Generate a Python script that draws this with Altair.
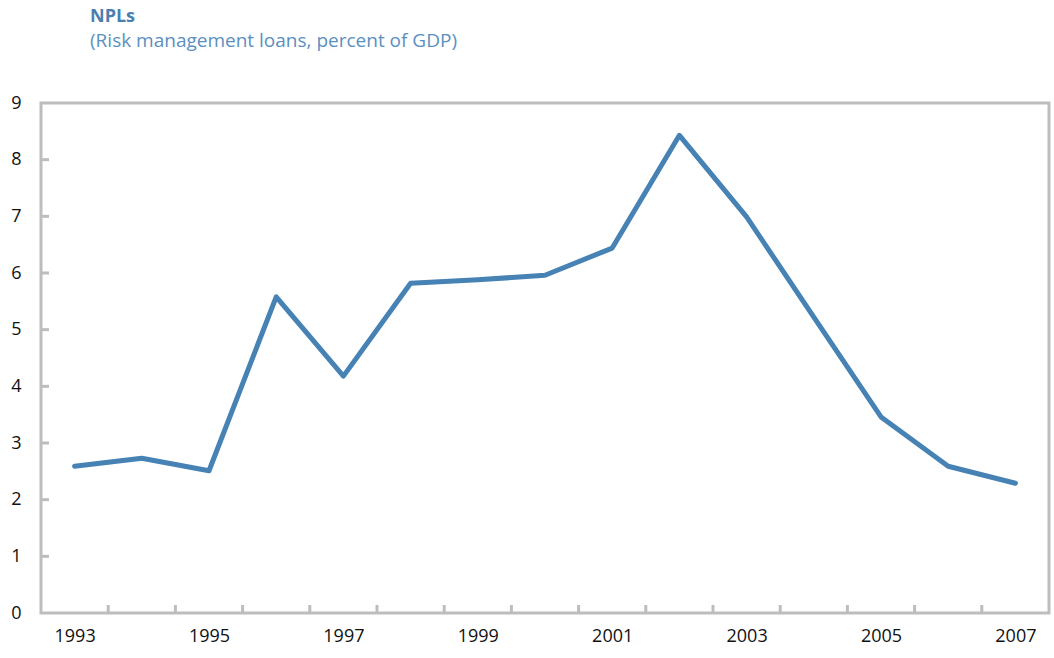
import altair as alt
import pandas as pd

years = list(range(1993, 2008))
npl = [2.59, 2.73, 2.51, 5.58, 4.18, 5.82, 5.88, 5.96, 6.44, 8.43, 6.99, 5.22, 3.46, 2.59, 2.29]
label_years = [1993, 1995, 1997, 1999, 2001, 2003, 2005, 2007]
y_ticks = [1, 2, 3, 4, 5, 6, 7, 8]
title_text = "NPLs"
subtitle_text = "(Risk management loans, percent of GDP)"

df = pd.DataFrame({"year": years, "npl": npl})
xtick_df = pd.DataFrame({"b": [y + 0.5 for y in years[:-1]]})
ytick_df = pd.DataFrame({"v": y_ticks})
title_df = pd.DataFrame({"t": [title_text]})
sub_df = pd.DataFrame({"t": [subtitle_text]})

W, H = 1008, 510
FONT = "Open Sans"
GRAY = "#bdbdbd"

xscale = alt.Scale(domain=[1992.5, 2007.5], nice=False, zero=False)
yscale = alt.Scale(domain=[0, 9], nice=False)

frame = alt.Chart(title_df).mark_rect(fill=None, stroke=GRAY, strokeWidth=3).encode(
    x=alt.value(0), x2=alt.value(W), y=alt.value(0), y2=alt.value(H)
)

line = alt.Chart(df).mark_line(color="#4682b4", strokeWidth=5, strokeJoin="round", strokeCap="round").encode(
    x=alt.X("year:Q", scale=xscale,
            axis=alt.Axis(values=label_years, format="d", ticks=False, domain=False, grid=False,
                          labelPadding=14, labelFontSize=18, labelFont=FONT, labelColor="#111111",
                          title=None)),
    y=alt.Y("npl:Q", scale=yscale,
            axis=alt.Axis(values=list(range(0, 10)), format="d", ticks=False, domain=False, grid=False,
                          labelPadding=20, labelFontSize=18, labelFont=FONT, labelColor="#111111",
                          title=None)),
)

xticks = alt.Chart(xtick_df).mark_rule(color=GRAY, strokeWidth=3).encode(
    x=alt.X("b:Q", scale=xscale),
    y=alt.value(H),
    y2=alt.value(H - 8),
)

yticks = alt.Chart(ytick_df).mark_rule(color=GRAY, strokeWidth=3).encode(
    y=alt.Y("v:Q", scale=yscale),
    x=alt.value(0),
    x2=alt.value(8),
)

title = alt.Chart(title_df).mark_text(
    align="left", baseline="alphabetic", font=FONT, fontSize=18, fontWeight="bold", color="#4a7fb0"
).encode(text="t:N", x=alt.value(49), y=alt.value(-81))

subtitle = alt.Chart(sub_df).mark_text(
    align="left", baseline="alphabetic", font=FONT, fontSize=19, color="#5b8fc0"
).encode(text="t:N", x=alt.value(49), y=alt.value(-56))

chart = alt.layer(xticks, yticks, line, frame, title, subtitle).properties(
    width=W, height=H,
    autosize=alt.AutoSizeParams(type="none"),
    padding={"left": 41, "top": 103, "right": 5, "bottom": 45},
).configure_view(stroke=None).configure(background="white")

chart.save("out.html", embed_options={"renderer": "svg", "actions": False})
